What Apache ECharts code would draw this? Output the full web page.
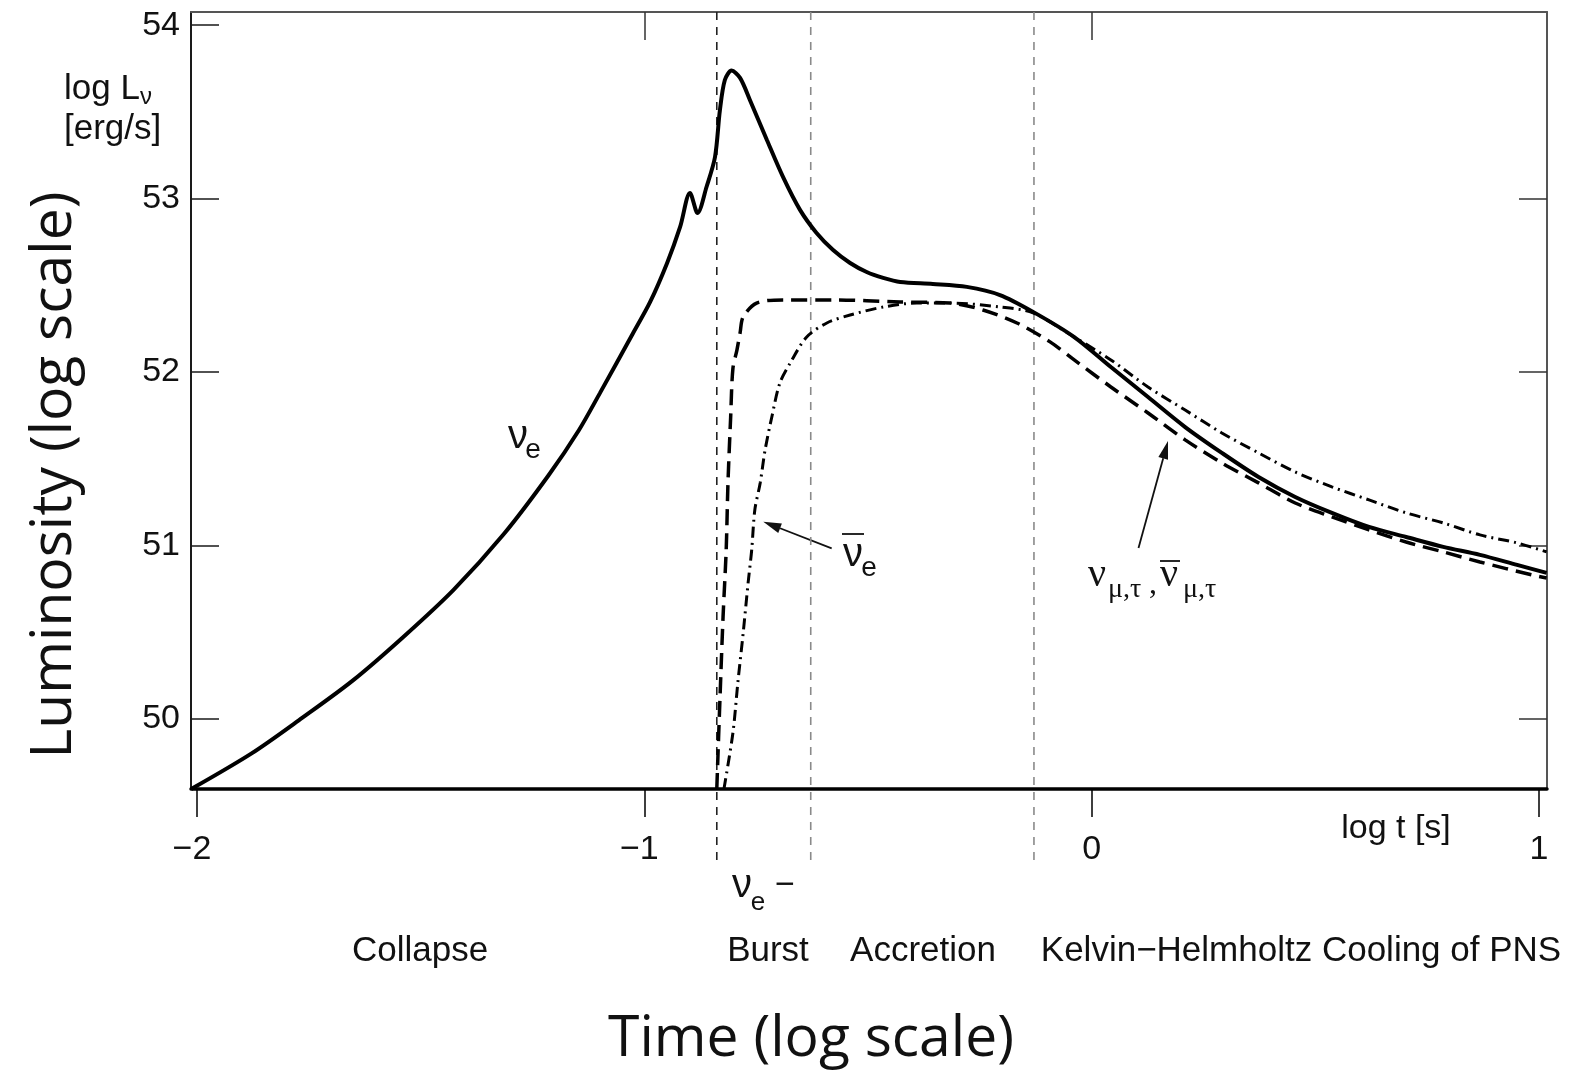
<!DOCTYPE html>
<html>
<head>
<meta charset="utf-8">
<script src="https://cdn.jsdelivr.net/npm/echarts@6/dist/echarts.min.js"></script>
<style>
  html, body { margin: 0; padding: 0; background: #ffffff; }
  #chart { width: 1579px; height: 1070px; }
</style>
</head>
<body>
<div id="chart"></div>
<script>
// Neutrino luminosity of a core-collapse supernova, log L [erg/s] against log t [s]

// nu_e (solid)
const nuE_logT = [-2.013, -1.877, -1.765, -1.652, -1.540, -1.427, -1.315, -1.214, -1.146, -1.099,
  -1.025, -0.987, -0.949, -0.920, -0.898, -0.881, -0.861, -0.842, -0.831, -0.820,
  -0.805, -0.786, -0.764, -0.726, -0.690, -0.652, -0.615, -0.578, -0.540, -0.503,
  -0.466, -0.428, -0.355, -0.279, -0.205, -0.131, -0.039, 0.043, 0.126, 0.209,
  0.291, 0.373, 0.455, 0.537, 0.620, 0.703, 0.786, 0.868, 0.951, 1.017];
const nuE_logL = [49.596, 49.803, 50.006, 50.221, 50.470, 50.743, 51.063, 51.405, 51.666, 51.880,
  52.225, 52.404, 52.629, 52.837, 53.033, 52.917, 53.067, 53.240, 53.511, 53.684,
  53.738, 53.696, 53.569, 53.338, 53.125, 52.935, 52.802, 52.704, 52.629, 52.577,
  52.543, 52.519, 52.508, 52.491, 52.444, 52.347, 52.202, 52.029, 51.856, 51.683,
  51.534, 51.395, 51.280, 51.188, 51.107, 51.049, 50.992, 50.946, 50.888, 50.842];

// anti-nu_e (dash-dot)
const antiNuE_logT = [-0.822, -0.802, -0.791, -0.779, -0.768, -0.760, -0.753, -0.741, -0.730, -0.715,
  -0.697, -0.674, -0.637, -0.592, -0.540, -0.466, -0.391, -0.317, -0.205, -0.131,
  -0.039, 0.043, 0.126, 0.209, 0.291, 0.373, 0.455, 0.537, 0.620, 0.703,
  0.786, 0.868, 0.951, 1.017];
const antiNuE_logL = [49.596, 49.919, 50.208, 50.496, 50.784, 50.974, 51.205, 51.361, 51.551, 51.741,
  51.937, 52.052, 52.202, 52.283, 52.329, 52.375, 52.398, 52.398, 52.375, 52.341,
  52.202, 52.070, 51.914, 51.781, 51.649, 51.534, 51.424, 51.338, 51.263, 51.188,
  51.130, 51.061, 51.015, 50.963];

// nu_mu,tau and anti-nu_mu,tau (dashed)
const nuMuTau_logT = [-0.838, -0.831, -0.824, -0.817, -0.813, -0.807, -0.802, -0.793, -0.786, -0.779,
  -0.749, -0.690, -0.578, -0.428, -0.317, -0.243, -0.167, -0.093, -0.039, 0.043,
  0.126, 0.209, 0.291, 0.373, 0.455, 0.537, 0.620, 0.703, 0.786, 0.868,
  0.985, 1.017];
const nuMuTau_logL = [49.596, 50.110, 50.588, 50.974, 51.361, 51.741, 52.020, 52.127, 52.225, 52.318,
  52.398, 52.416, 52.416, 52.404, 52.398, 52.358, 52.283, 52.174, 52.070, 51.914,
  51.764, 51.609, 51.476, 51.361, 51.245, 51.165, 51.090, 51.020, 50.963, 50.905,
  50.830, 50.813];

// boundaries between the phases (log t)
const phaseBoundaries = [-0.838, -0.628, -0.129];
const phaseNames = ['Collapse', 'Burst', 'Accretion', 'Kelvin\u2212Helmholtz Cooling of PNS'];

// axis ticks
const xTicks = [-2, -1, 0, 1];
const yTicks = [50, 51, 52, 53, 54];
const topTicks = [-1, 0];
const rightTicks = [50, 51, 52, 53];

const X_MIN = -2.0134, X_MAX = 1.0179;
const Y_MIN = 49.596, Y_MAX = 54.076;
const PHASE_LINE_BELOW = 0.42;   // how far the phase lines reach under the time axis (axis units)

const SANS = '"Liberation Sans", Arial, Helvetica, sans-serif';
const SERIF = '"Liberation Serif", "Times New Roman", serif';
const TITLE = '"Open Sans", "Noto Sans", sans-serif';
const INK = '#111111';

const zip = (xs, ys) => xs.map((x, i) => [x, ys[i]]);
const minus = v => (v < 0 ? '\u2212' + Math.abs(v) : String(v));

function txt(x, y, text, size, o) {
  o = o || {};
  return {
    type: 'text', x: x, y: y, rotation: o.rotation || 0, silent: true, z: 50,
    style: {
      text: text, fontSize: size, fontFamily: o.family || SANS,
      fill: INK, align: o.align || 'center', verticalAlign: 'middle'
    }
  };
}

function arrow(x1, y1, x2, y2, head, half) {
  const dx = x2 - x1, dy = y2 - y1, len = Math.hypot(dx, dy);
  const ux = dx / len, uy = dy / len;
  const bx = x2 - ux * head, by = y2 - uy * head;
  return {
    type: 'group', silent: true, z: 50,
    children: [
      { type: 'line', shape: { x1: x1, y1: y1, x2: bx, y2: by }, style: { stroke: INK, lineWidth: 1.8 } },
      { type: 'polygon', shape: { points: [[x2, y2], [bx - uy * half, by + ux * half], [bx + uy * half, by - ux * half]] },
        style: { fill: INK } }
    ]
  };
}

function bar(x1, x2, y) {
  return { type: 'line', silent: true, z: 50, shape: { x1: x1, y1: y, x2: x2, y2: y }, style: { stroke: INK, lineWidth: 1.8 } };
}

const phaseSeries = phaseBoundaries.map((b, i) => ({
  type: 'line', name: 'phase ' + (i + 1), clip: false, silent: true, showSymbol: false, z: 1,
  data: [[b, Y_MAX], [b, Y_MIN - PHASE_LINE_BELOW]],
  lineStyle: { color: i === 0 ? '#222222' : '#8a8a8a', width: 1.6, type: [8, 7] }
}));

const chart = echarts.init(document.getElementById('chart'), null, { renderer: 'canvas' });

const phaseLabelX = [420, 768, 923, 1301];

chart.setOption({
  animation: false,
  backgroundColor: '#ffffff',
  grid: { left: 191, top: 12, right: 32, bottom: 281, outerBoundsMode: 'none' },
  xAxis: [
    {
      type: 'value', position: 'bottom', min: X_MIN, max: X_MAX,
      axisLine: { show: true, onZero: false, lineStyle: { color: '#000', width: 3.5 } },
      axisTick: { show: true, inside: false, length: 28, customValues: xTicks, lineStyle: { color: '#000', width: 1.5 } },
      axisLabel: {
        customValues: xTicks, margin: 44, color: INK, fontSize: 34, fontFamily: SANS,
        formatter: v => (v < 0 ? '{n|' + minus(v) + '}' : minus(v)),
        rich: { n: { fontSize: 34, fontFamily: SANS, color: INK, padding: [0, 10, 0, 0] } }
      },
      splitLine: { show: false }
    },
    {
      type: 'value', position: 'top', min: X_MIN, max: X_MAX,
      axisLine: { show: true, onZero: false, lineStyle: { color: '#555', width: 2 } },
      axisTick: { show: true, inside: true, length: 28, customValues: topTicks, lineStyle: { color: '#333', width: 1.5 } },
      axisLabel: { show: false },
      splitLine: { show: false }
    }
  ],
  yAxis: [
    {
      type: 'value', position: 'left', min: Y_MIN, max: Y_MAX,
      axisLine: { show: true, onZero: false, lineStyle: { color: '#1a1a1a', width: 2 } },
      axisTick: { show: true, inside: true, length: 28, customValues: yTicks, lineStyle: { color: '#1a1a1a', width: 1.5 } },
      axisLabel: { customValues: yTicks, margin: 11, color: INK, fontSize: 34, fontFamily: SANS },
      splitLine: { show: false }
    },
    {
      type: 'value', position: 'right', min: Y_MIN, max: Y_MAX,
      axisLine: { show: true, onZero: false, lineStyle: { color: '#555', width: 2 } },
      axisTick: { show: true, inside: true, length: 28, customValues: rightTicks, lineStyle: { color: '#333', width: 1.5 } },
      axisLabel: { show: false },
      splitLine: { show: false }
    }
  ],
  series: phaseSeries.concat([
    {
      type: 'line', name: '\u03bd\u0304e', showSymbol: false, smooth: 0.3, z: 3,
      data: zip(antiNuE_logT, antiNuE_logL),
      lineStyle: { color: '#000', width: 3, type: [11, 5, 2, 5] }
    },
    {
      type: 'line', name: '\u03bd\u03bc,\u03c4', showSymbol: false, smooth: 0.3, z: 3,
      data: zip(nuMuTau_logT, nuMuTau_logL),
      lineStyle: { color: '#000', width: 3.5, type: [16, 8] }
    },
    {
      type: 'line', name: '\u03bde', showSymbol: false, smooth: 0.3, z: 4,
      data: zip(nuE_logT, nuE_logL),
      lineStyle: { color: '#000', width: 4 }
    }
  ]),
  graphic: [
    // y unit label
    txt(64, 89, 'log L', 35, { align: 'left' }),
    txt(140, 97, '\u03bd', 24, { align: 'left' }),
    txt(64, 129, '[erg/s]', 35, { align: 'left' }),
    // x unit label
    txt(1396, 829, 'log t [s]', 34),
    // curve labels
    txt(518, 437, '\u03bd', 40),
    txt(533, 450, 'e', 28),
    txt(853, 555, '\u03bd', 40),
    bar(842, 864, 534),
    txt(869, 568, 'e', 28),
    arrow(831.7, 548.3, 763.3, 521.7, 18, 5),
    txt(1097, 575, '\u03bd', 40, { family: SERIF }),
    txt(1108, 590, '\u03bc,\u03c4', 28, { family: SERIF, align: 'left' }),
    txt(1149, 585, ',', 32, { family: SERIF, align: 'left' }),
    txt(1169, 575, '\u03bd', 40, { family: SERIF }),
    bar(1160, 1180, 561),
    txt(1183, 590, '\u03bc,\u03c4', 28, { family: SERIF, align: 'left' }),
    arrow(1138.5, 548, 1168, 441, 18, 5),
    // phase labels
    txt(742, 886, '\u03bd', 40),
    txt(758, 903, 'e', 26),
    txt(785, 886, '\u2212', 34),
    txt(phaseLabelX[0], 951, phaseNames[0], 35),
    txt(phaseLabelX[1], 951, phaseNames[1], 35),
    txt(phaseLabelX[2], 951, phaseNames[2], 35),
    txt(phaseLabelX[3], 951, phaseNames[3], 35),
    // axis titles
    txt(811, 1040, 'Time (log scale)', 57, { family: TITLE }),
    txt(55, 475, 'Luminosity (log scale)', 57, { family: TITLE, rotation: Math.PI / 2 })
  ]
});
</script>
</body>
</html>
